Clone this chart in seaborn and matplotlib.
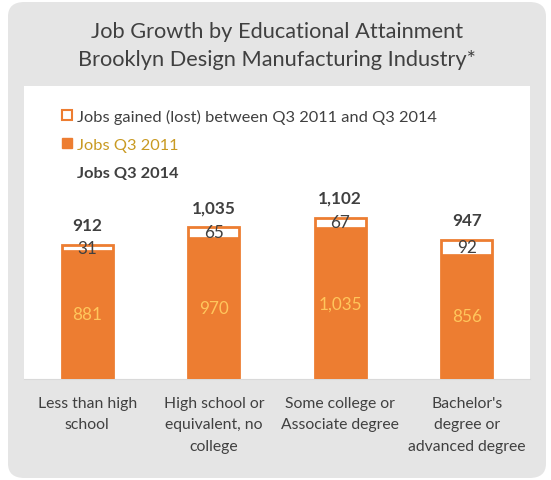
import matplotlib
matplotlib.use("Agg")
import matplotlib.pyplot as plt
from matplotlib.patches import FancyBboxPatch, Patch
import seaborn as sns
import pandas as pd

# Data
categories = [
    "Less than high\nschool",
    "High school or\nequivalent, no\ncollege",
    "Some college or\nAssociate degree",
    "Bachelor's\ndegree or\nadvanced degree",
]
jobs_2011 = [881, 970, 1035, 856]
jobs_gained = [31, 65, 67, 92]
jobs_2014 = [912, 1035, 1102, 947]

ORANGE = "#ED7D31"
DARK = "#404040"
LIGHT_ORANGE = "#FFC65C"
GOLD = "#C99A22"
PANEL = "#E5E5E5"

df = pd.DataFrame({
    "category": categories,
    "jobs_2011": jobs_2011,
    "jobs_gained": jobs_gained,
    "jobs_2014": jobs_2014,
})

sns.set_theme(style="white")
plt.rcParams["font.family"] = ["Lato", "DejaVu Sans"]

fig = plt.figure(figsize=(5.51, 4.81), dpi=100, facecolor="white")

# Rounded grey card behind everything
panel = FancyBboxPatch((8 / 551, 2 / 481), 538 / 551, 476 / 481,
                       boxstyle="round,pad=0,rounding_size=0.03",
                       transform=fig.transFigure, facecolor=PANEL,
                       edgecolor="none", zorder=-10)
fig.patches.append(panel)

ax = fig.add_axes([24 / 551, (481 - 380) / 481, 506 / 551, 293 / 481])
ax.set_zorder(1)
ax.set_facecolor("white")

# Stacked bars: full 2014 height in white with orange outline, 2011 part filled on top
sns.barplot(data=df, x="category", y="jobs_2014", color="white",
            edgecolor=ORANGE, linewidth=2.0, width=0.40, saturation=1,
            ax=ax, zorder=2)
sns.barplot(data=df, x="category", y="jobs_2011", color=ORANGE,
            edgecolor=ORANGE, linewidth=0.5, width=0.40, saturation=1,
            ax=ax, zorder=3)

ax.set_ylim(0, 2000)
ax.set_xlim(-0.5, 3.5)

for i in range(len(categories)):
    ax.text(i, jobs_2011[i] / 2, f"{jobs_2011[i]:,}", ha="center", va="center",
            color=LIGHT_ORANGE, fontsize=12.3, zorder=5)
    ax.text(i, jobs_2011[i] + jobs_gained[i] / 2, f"{jobs_gained[i]:,}",
            ha="center", va="center", color=DARK, fontsize=12.3, zorder=5)
    ax.annotate(f"{jobs_2014[i]:,}", (i, jobs_2014[i]), xytext=(0, 14.5),
                textcoords="offset points", ha="center", va="center",
                color=DARK, fontsize=12.3, fontweight="bold", zorder=5)

ax.set_xlabel("")
ax.set_ylabel("")
ax.set_yticks([])
ax.tick_params(axis="x", length=0, pad=12, labelsize=11.3, labelcolor=DARK)
for lbl in ax.get_xticklabels():
    lbl.set_linespacing(1.68)
for side in ("top", "left", "right"):
    ax.spines[side].set_visible(False)
ax.spines["bottom"].set_color("#D9D9D9")
ax.spines["bottom"].set_linewidth(0.8)

handles = [
    Patch(facecolor="white", edgecolor=ORANGE, linewidth=1.5),
    Patch(facecolor=ORANGE, edgecolor=ORANGE),
    Patch(facecolor="none", edgecolor="none"),
]
labels = ["Jobs gained (lost) between Q3 2011 and Q3 2014", "Jobs Q3 2011", "Jobs Q3 2014"]
leg = ax.legend(handles, labels, loc="upper left", bbox_to_anchor=(0.063, 0.945),
                frameon=False, fontsize=11.8, handlelength=0.6, handleheight=0.6,
                handletextpad=0.3, labelspacing=0.85, borderaxespad=0)
texts = leg.get_texts()
texts[0].set_color(DARK)
texts[1].set_color(GOLD)
texts[2].set_color(DARK)
texts[2].set_fontweight("bold")

fig.text(0.502, 1 - 32 / 481, "Job Growth by Educational Attainment", ha="center", va="center",
         fontsize=15.7, color=DARK)
fig.text(0.502, 1 - 60 / 481, "Brooklyn Design Manufacturing Industry*", ha="center", va="center",
         fontsize=15.7, color=DARK)

fig.savefig("out.png", dpi=100, facecolor="white")
